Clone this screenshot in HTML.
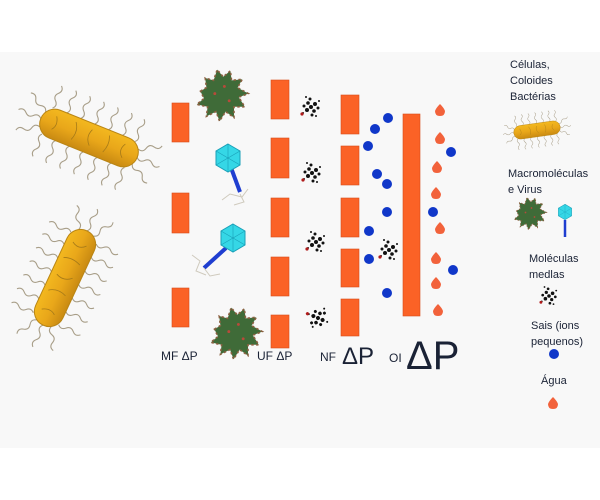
<!DOCTYPE html>
<html><head><meta charset="utf-8"><style>
html,body{margin:0;padding:0;background:#fff}
svg{display:block}
text{font-family:"Liberation Sans",sans-serif;fill:#1a2235}
</style></head><body>
<svg width="600" height="500" viewBox="0 0 600 500" xmlns="http://www.w3.org/2000/svg">
<defs>
<linearGradient id="bg" x1="0" y1="0" x2="0" y2="1"><stop offset="0" stop-color="#f3b81f"/><stop offset="0.5" stop-color="#e9a71a"/><stop offset="1" stop-color="#c98a12"/></linearGradient>
<path id="hair" d="M0 0 q4 -4 0 -8 q-4 -4 0 -8 q4 -4 0 -8" fill="none" stroke="#a89e88" stroke-width="1.1"/>
<g id="bact">
 <g>
  <use href="#hair" transform="translate(-45,-14)"/><use href="#hair" transform="translate(-30,-15)"/><use href="#hair" transform="translate(-15,-15)"/><use href="#hair" transform="translate(0,-15)"/><use href="#hair" transform="translate(15,-15)"/><use href="#hair" transform="translate(30,-15)"/><use href="#hair" transform="translate(44,-14)"/>
  <use href="#hair" transform="translate(-45,14) rotate(180)"/><use href="#hair" transform="translate(-30,15) rotate(180)"/><use href="#hair" transform="translate(-15,15) rotate(180)"/><use href="#hair" transform="translate(0,15) rotate(180)"/><use href="#hair" transform="translate(15,15) rotate(180)"/><use href="#hair" transform="translate(30,15) rotate(180)"/><use href="#hair" transform="translate(44,14) rotate(180)"/>
  <use href="#hair" transform="translate(-52,0) rotate(-90)"/><use href="#hair" transform="translate(-50,-8) rotate(-60)"/><use href="#hair" transform="translate(-50,8) rotate(-120)"/>
  <use href="#hair" transform="translate(52,0) rotate(90)"/><use href="#hair" transform="translate(50,-8) rotate(60)"/><use href="#hair" transform="translate(50,8) rotate(120)"/>
 </g>
 <rect x="-52" y="-15" width="104" height="30" rx="15" fill="url(#bg)" stroke="#b98514" stroke-width="1"/>
 <path d="M-38 -8 q5 8 0 14 M-18 -10 q6 8 2 18 M0 -9 q-4 9 3 16 M18 -10 q4 8 0 18 M36 -8 q-5 8 2 14" stroke="#a67a18" stroke-width="0.8" fill="none"/>
</g>
<g id="mol" fill="#111">
 <circle cx="0" cy="0" r="2"/><circle cx="4" cy="-3" r="2"/><circle cx="-4" cy="3" r="2"/><circle cx="3" cy="4" r="1.8"/><circle cx="-3" cy="-4" r="1.8"/><circle cx="7" cy="1" r="1.5"/><circle cx="-7" cy="-1" r="1.5"/><circle cx="1" cy="8" r="1.5"/><circle cx="-1" cy="-8" r="1.5"/><circle cx="8" cy="-6" r="1"/><circle cx="-8" cy="6" r="1"/><circle cx="5" cy="9" r="1"/><circle cx="-5" cy="-10" r="1"/><circle cx="-9" cy="7" r="1.6" fill="#b01c1c"/>
</g>
<g id="blob">
 <path d="M-18 -4 l5 -3 l-1 -8 l7 2 l3 -9 l5 6 l6 -5 l1 8 l9 -1 l-4 7 l9 5 l-8 3 l5 8 l-9 0 l0 9 l-7 -5 l-5 8 l-3 -8 l-8 4 l1 -8 l-9 -2 l6 -5 z" fill="#3f6b38" stroke="#8a6040" stroke-width="1.3" stroke-dasharray="2 2"/>
 <circle cx="-6" cy="-2" r="1.2" fill="#b84a3a"/><circle cx="6" cy="4" r="1.2" fill="#b84a3a"/><circle cx="2" cy="-8" r="1.2" fill="#b84a3a"/>
</g>
<path id="drop" d="M0 -6 q4 4 5 7 q0 5 -5 5 q-5 0 -5 -5 q1 -3 5 -7z" fill="#f2623b"/>
<g id="virus">
 <polygon points="0,-14 12,-7 12,7 0,14 -12,7 -12,-7" fill="#35d7e6" stroke="#1aa0b8" stroke-width="1"/>
 <path d="M0 -14 L0 14 M-12 -7 L12 7 M12 -7 L-12 7" stroke="#1aa0b8" stroke-width="0.6"/>
</g>
</defs>
<rect x="0" y="52" width="600" height="396" fill="#f8f8f8"/>

<use href="#bact" transform="translate(89,138) rotate(22)"/>
<use href="#bact" transform="translate(65,278) rotate(-65)"/>

<g fill="#fb6226" stroke="#d94c1a" stroke-width="0.6">
<rect x="172" y="103" width="17" height="39"/><rect x="172" y="193" width="17" height="40"/><rect x="172" y="288" width="17" height="39"/>
<rect x="271" y="80" width="18" height="39"/><rect x="271" y="138" width="18" height="40"/><rect x="271" y="198" width="18" height="39"/><rect x="271" y="257" width="18" height="39"/><rect x="271" y="315" width="18" height="33"/>
<rect x="341" y="95" width="18" height="39"/><rect x="341" y="146" width="18" height="39"/><rect x="341" y="198" width="18" height="39"/><rect x="341" y="249" width="18" height="38"/><rect x="341" y="299" width="18" height="37"/>
<rect x="403" y="114" width="17" height="202"/>
</g>

<use href="#blob" transform="translate(222,96) scale(1.2)"/>
<use href="#blob" transform="translate(236,334) scale(1.2)"/>
<line x1="230" y1="165" x2="240" y2="192" stroke="#1f3ed0" stroke-width="4"/>
<path d="M222 200 l8 -6 l12 3 l6 -8 M240 194 l4 8 l-10 3" stroke="#cfcabd" fill="none"/>
<use href="#virus" transform="translate(228,158)"/>
<line x1="226" y1="248" x2="204" y2="268" stroke="#1f3ed0" stroke-width="4"/>
<path d="M192 255 l8 6 l-4 10 l10 4 M204 268 l6 8 l10 -2" stroke="#cfcabd" fill="none"/>
<use href="#virus" transform="translate(233,238)"/>

<use href="#mol" transform="translate(311,107)"/>
<use href="#mol" transform="translate(312,173)"/>
<use href="#mol" transform="translate(316,242)"/>
<use href="#mol" transform="translate(318,318) rotate(60)"/>
<use href="#mol" transform="translate(389,250)"/>

<g fill="#1037c9">
<circle cx="388" cy="118" r="5"/><circle cx="375" cy="129" r="5"/><circle cx="368" cy="146" r="5"/><circle cx="377" cy="174" r="5"/><circle cx="387" cy="184" r="5"/><circle cx="387" cy="212" r="5"/><circle cx="369" cy="231" r="5"/><circle cx="369" cy="259" r="5"/><circle cx="387" cy="293" r="5"/>
<circle cx="451" cy="152" r="5"/><circle cx="433" cy="212" r="5"/><circle cx="453" cy="270" r="5"/>
</g>
<use href="#drop" transform="translate(440,110)"/><use href="#drop" transform="translate(440,138)"/><use href="#drop" transform="translate(437,167)"/><use href="#drop" transform="translate(436,193)"/><use href="#drop" transform="translate(440,228)"/><use href="#drop" transform="translate(436,258)"/><use href="#drop" transform="translate(436,283)"/><use href="#drop" transform="translate(438,310)"/>

<text x="161" y="360" font-size="12">MF ΔP</text>
<text x="257" y="360" font-size="12">UF ΔP</text>
<text x="320" y="361" font-size="12">NF</text>
<text x="342" y="364" font-size="24">ΔP</text>
<text x="389" y="362" font-size="12">OI</text>
<text x="406" y="369" font-size="40">ΔP</text>

<g font-size="11">
<text x="510" y="68">Células,</text><text x="510" y="84">Coloides</text><text x="510" y="100">Bactérias</text>
<text x="508" y="177">Macromoléculas</text><text x="508" y="193">e Virus</text>
<text x="529" y="262">Moléculas</text><text x="529" y="278">medlas</text>
<text x="531" y="329">Sais (ions</text><text x="531" y="345">pequenos)</text>
<text x="541" y="384">Água</text>
</g>
<use href="#bact" transform="translate(537,130) scale(0.45) rotate(-8)"/>
<use href="#blob" transform="translate(530,214) scale(0.75)"/>
<line x1="565" y1="220" x2="565" y2="237" stroke="#1f3ed0" stroke-width="2.5"/>
<use href="#virus" transform="translate(565,212) scale(0.55)"/>
<use href="#mol" transform="translate(549,296) scale(0.9)"/>
<circle cx="554" cy="354" r="5" fill="#1037c9"/>
<use href="#drop" transform="translate(553,403)"/>
</svg>
</body></html>
